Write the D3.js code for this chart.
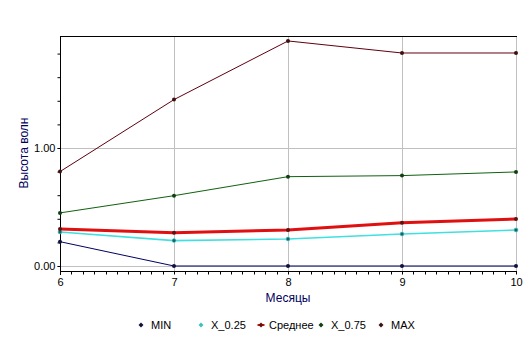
<!DOCTYPE html>
<html>
<head>
<meta charset="utf-8">
<script src="https://cdn.jsdelivr.net/npm/d3@7"></script>
<style>
  html, body { margin: 0; padding: 0; background: #fff; }
  svg { display: block; font-family: "Liberation Sans", Arial, sans-serif; }
</style>
</head>
<body>
<svg id="chart" width="532" height="347"></svg>
<script>
// Months on the x axis
const months = [6, 7, 8, 9, 10];

// Wave height statistics per month
const minVals  = [0.206, 0.0, 0.0, 0.0, 0.0];
const q25Vals  = [0.288, 0.215, 0.229, 0.271, 0.305];
const meanVals = [0.314, 0.282, 0.305, 0.367, 0.398];
const q75Vals  = [0.450, 0.596, 0.757, 0.766, 0.797];
const maxVals  = [0.800, 1.410, 1.907, 1.805, 1.805];

const seriesNames = ["MIN", "X_0.25", "Среднее", "X_0.75", "MAX"];
const yTickLabels = [0, 1];

const series = [
  { name: seriesNames[0], values: minVals,  color: "#000060", width: 1,   dot: "#101040" },
  { name: seriesNames[1], values: q25Vals,  color: "#40e0e0", width: 1.6, dot: "#206060" },
  { name: seriesNames[2], values: meanVals, color: "#e01010", width: 3,   dot: "#601010" },
  { name: seriesNames[3], values: q75Vals,  color: "#106010", width: 1,   dot: "#104010" },
  { name: seriesNames[4], values: maxVals,  color: "#600010", width: 1,   dot: "#401010" }
];

const svg = d3.select("#chart");
const plotL = 60, plotR = 516, plotT = 36, plotB = 271;

const x = d3.scaleLinear().domain([6, 10]).range([plotL, plotR]);
const y = d3.scaleLinear().domain([-0.0424, 1.949]).range([plotB, plotT]);

// grid lines
const grid = svg.append("g").attr("stroke", "#c0c0c0").attr("stroke-width", 1);
months.slice(1).forEach(m => {
  grid.append("line")
    .attr("x1", Math.round(x(m)) + 0.5).attr("x2", Math.round(x(m)) + 0.5)
    .attr("y1", plotT).attr("y2", plotB);
});
yTickLabels.forEach(v => {
  grid.append("line")
    .attr("x1", plotL - 3).attr("x2", plotR)
    .attr("y1", Math.round(y(v)) + 0.5).attr("y2", Math.round(y(v)) + 0.5);
});

// top border
svg.append("line")
  .attr("x1", plotL).attr("x2", plotR + 1)
  .attr("y1", plotT + 0.5).attr("y2", plotT + 0.5)
  .attr("stroke", "#000");

// y axis
const yAxis = d3.axisLeft(y)
  .tickValues(d3.range(0, 1.95, 0.2))
  .tickSize(3)
  .tickFormat(d => (Math.abs(d) < 1e-9 || Math.abs(d - 1) < 1e-9) ? d3.format(".2f")(d) : "");
const yg = svg.append("g").attr("transform", `translate(${plotL + 0.5},0)`).call(yAxis);
yg.select(".domain").remove();
yg.append("line").attr("x1", 0).attr("x2", 0).attr("y1", plotT).attr("y2", plotB + 4).attr("stroke", "#000");
yg.selectAll(".tick line").attr("stroke", "#000");
yg.selectAll(".tick text").attr("font-size", 11).attr("fill", "#000")
  .attr("font-family", "Liberation Sans, Arial, sans-serif").attr("x", -5);

// x axis with minor ticks
const xg = svg.append("g").attr("transform", `translate(0,${plotB + 0.5})`);
xg.append("line").attr("x1", plotL).attr("x2", plotR + 1).attr("y1", 0).attr("y2", 0).attr("stroke", "#000");
d3.range(60, 101).forEach(i => {
  const v = i / 10;
  const px = Math.round(x(v)) + 0.5;
  xg.append("line").attr("x1", px).attr("x2", px).attr("y1", 0).attr("y2", 3).attr("stroke", "#000");
});
const xAxis = d3.axisBottom(x).tickValues(months).tickSize(0).tickFormat(d3.format("d"));
const xa = svg.append("g").attr("transform", `translate(0,${plotB})`).call(xAxis);
xa.select(".domain").remove();
xa.selectAll(".tick text").attr("font-size", 11).attr("fill", "#000")
  .attr("font-family", "Liberation Sans, Arial, sans-serif").attr("y", 7);

// axis titles
svg.append("text")
  .attr("transform", `translate(28,153) rotate(-90)`)
  .attr("text-anchor", "middle")
  .attr("font-size", 12).attr("fill", "#000060")
  .text("Высота волн");
svg.append("text")
  .attr("x", 288).attr("y", 302)
  .attr("text-anchor", "middle")
  .attr("font-size", 12).attr("fill", "#000060")
  .text("Месяцы");

// series lines and point markers
const line = d3.line().x((d, i) => x(months[i])).y(d => y(d));
series.forEach(s => {
  svg.append("path")
    .datum(s.values)
    .attr("d", line)
    .attr("fill", "none")
    .attr("stroke", s.color)
    .attr("stroke-width", s.width);
});
series.forEach(s => {
  svg.append("g").selectAll("circle")
    .data(s.values)
    .join("circle")
    .attr("cx", (d, i) => x(months[i]))
    .attr("cy", d => y(d))
    .attr("r", 2)
    .attr("fill", s.dot)
    .attr("stroke", s.name === "X_0.25" ? "#40e0e0" : "none")
    .attr("stroke-width", 0.6);
});

// legend
const legend = svg.append("g").attr("transform", "translate(141,325)");
series.forEach((s, i) => {
  const g = legend.append("g").attr("transform", `translate(${i * 60},0)`);
  if (s.name === "Среднее") {
    g.append("line").attr("x1", -3.5).attr("x2", 3.5).attr("y1", 0).attr("y2", 0)
      .attr("stroke", s.color).attr("stroke-width", 2);
  }
  g.append("path")
    .attr("d", "M0,-2.5L2.5,0L0,2.5L-2.5,0Z")
    .attr("fill", s.name === "X_0.25" ? "#40c0c0" : s.dot);
  g.append("text")
    .attr("x", s.name === "Среднее" ? 8 : 10)
    .attr("y", 4)
    .attr("font-size", 11).attr("fill", "#000")
    .text(s.name);
});
</script>
</body>
</html>
